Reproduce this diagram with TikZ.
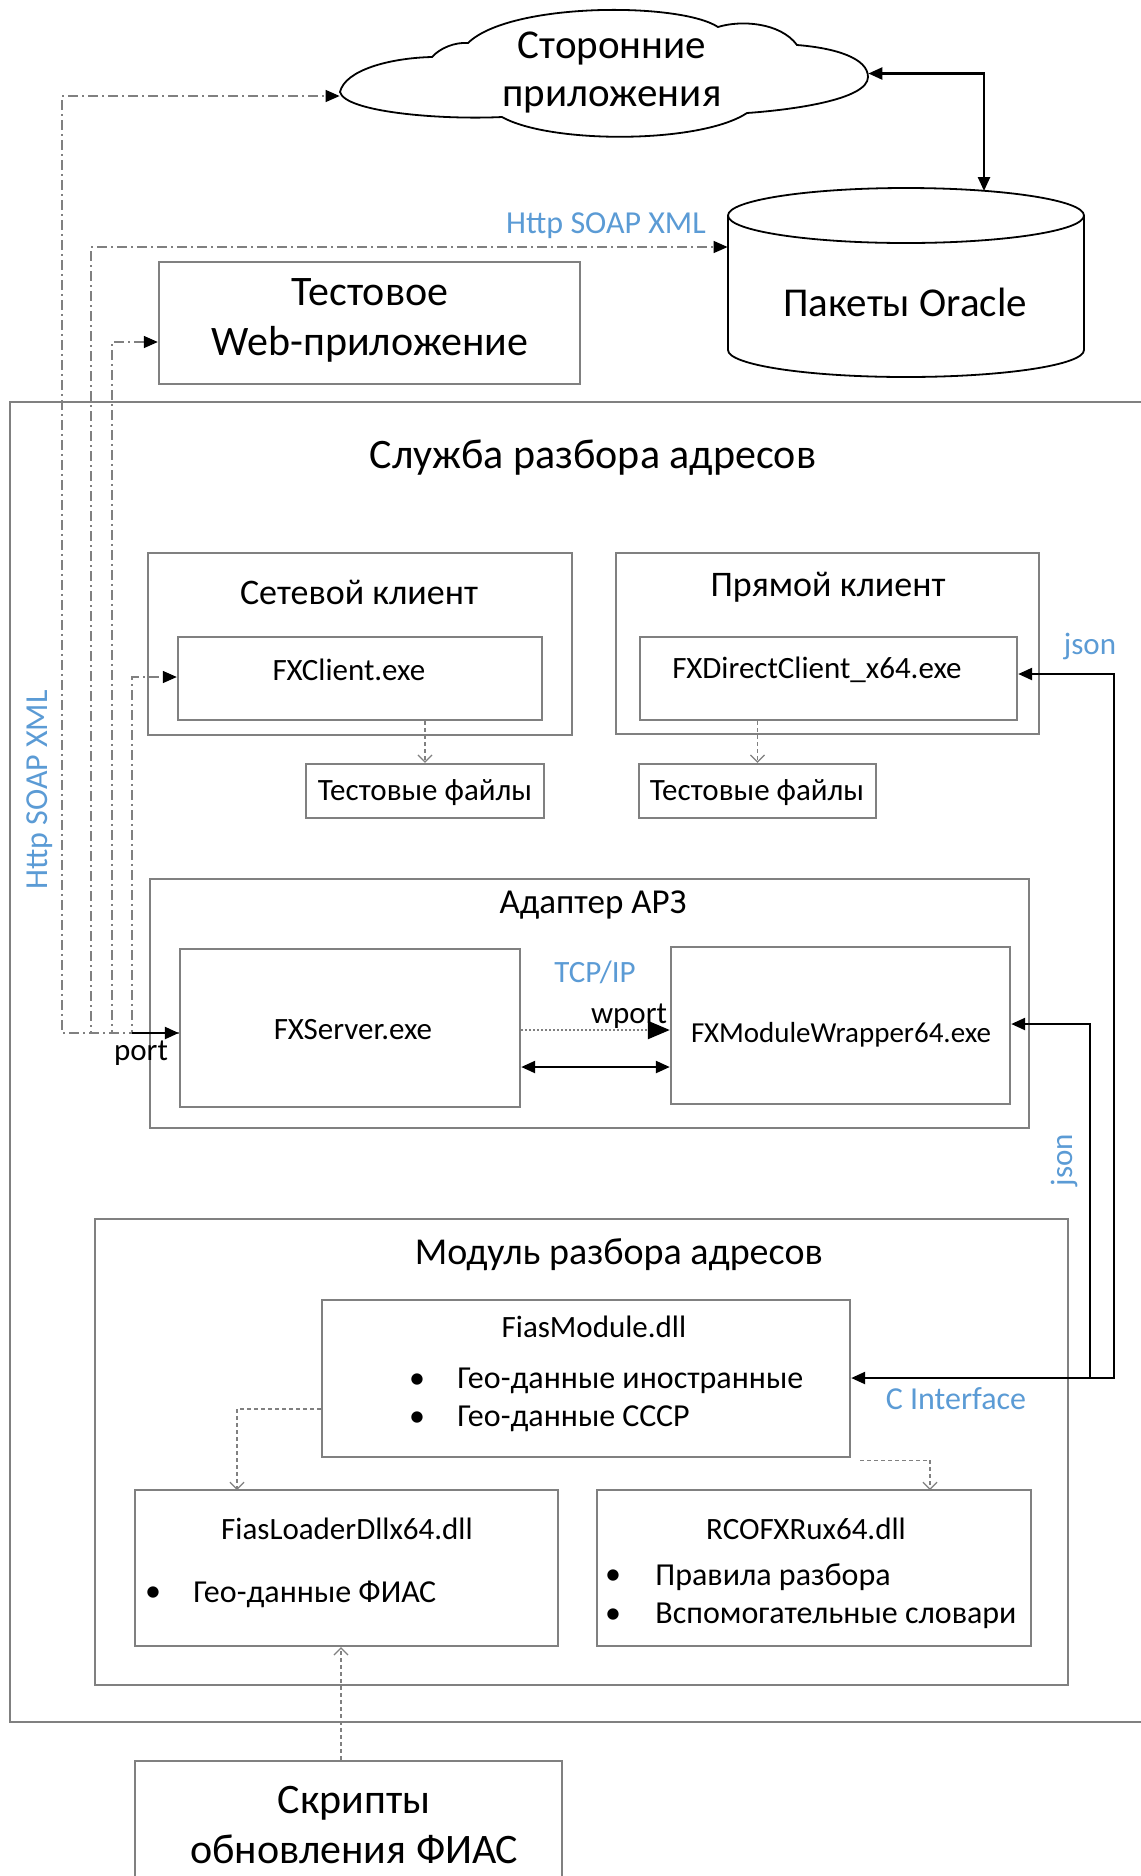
\documentclass[tikz,border=0pt]{standalone}
\usepackage{fontspec}
\setmainfont{Carlito}
\usetikzlibrary{arrows.meta,calc}
\definecolor{lblue}{RGB}{91,155,213}
\definecolor{bgray}{RGB}{128,128,128}
\newcommand{\myfs}[2]{\fontsize{#1}{#2}\selectfont}
\begin{document}
\begin{tikzpicture}[x=0.5pt,y=-0.5pt,
  box/.style={draw=bgray, line width=1.2pt, inner sep=0pt},
  txt/.style={inner sep=0pt, align=center, text=black},
  lbl/.style={inner sep=0pt, text=lblue, font=\myfs{15.5}{18}},
  conn/.style={draw=black, line width=1.2pt},
  hdash/.style={draw=gray, line width=0.7pt, dash pattern=on 5pt off 2pt on 1pt off 2pt},
  dep/.style={draw=gray, line width=0.6pt, dash pattern=on 2pt off 1.5pt, -{Straight Barb[length=3.5pt,width=7pt]}},
  blk/.style={-{Triangle[length=7pt,width=6pt,black]}},
  blkb/.style={{Triangle[length=7pt,width=6pt,black]}-{Triangle[length=7pt,width=6pt,black]}}
]
\useasboundingbox (0,0) rectangle (1141,1876);
\fill[white] (0,0) rectangle (1141,1876);

% ---------- top area ----------
\node[minimum width=264pt, minimum height=63.5pt, inner sep=0pt] (cloud) at (604,73.5) {};
\draw[black, line width=0.9pt, fill=white]
  (340,92) .. controls (345,70) and (390,58) .. (432,57)
  .. controls (440,48) and (455,42) .. (468,43)
  .. controls (510,2) and (680,2) .. (718,27)
  .. controls (740,20) and (780,22) .. (797,45)
  .. controls (835,48) and (868,58) .. (868,77)
  .. controls (868,100) and (790,110) .. (747,113)
  .. controls (700,144) and (550,144) .. (502,117)
  .. controls (440,120) and (345,112) .. (340,92) -- cycle;
\node[txt, font=\myfs{20.5}{24}] (cloudT) at (612,72) {Сторонние\\приложения};

\node[minimum width=178pt, minimum height=94.5pt, inner sep=0pt] (oracle) at (906,282.5) {};
\fill[white] (728,215.5) -- (728,350) arc(180:0:178 and 27) -- (1084,215.5) -- cycle;
\draw[black, line width=0.9pt] (728,215.5) -- (728,350) arc(180:0:178 and 27) -- (1084,215.5);
\draw[black, line width=0.9pt, fill=white] (906,215.5) ellipse (178 and 27.5);
\node[txt, font=\myfs{20.5}{24}] (oracleT) at (905,302) {Пакеты Oracle};

\node[box, minimum width=210.5pt, minimum height=61pt] (web) at (369.5,323) {};
\node[txt, font=\myfs{21}{25}] (webT) at (370,320) {Тестовое\\Web-приложение};

\node[lbl, font=\myfs{16}{18}] (httpT) at (606,226) {Http SOAP XML};

% ---------- service frame ----------
\node[box, minimum width=575pt, minimum height=660pt] (svc) at (585,1062) {};
\node[txt, font=\myfs{21}{25}] (svcT) at (593,458) {Служба разбора адресов};

\node[box, minimum width=212pt, minimum height=91pt] (netcl) at (360,644) {};
\node[txt, font=\myfs{18}{22}] (netclT) at (359,592) {Сетевой клиент};
\node[box, minimum width=182pt, minimum height=41.5pt] (fxclient) at (360,678.5) {};
\node[txt, font=\myfs{15.5}{18}] (fxclientT) at (349,670) {FXClient.exe};
\node[box, minimum width=119pt, minimum height=27pt] (tf1) at (425,791) {};
\node[txt, font=\myfs{15.5}{18}] (tf1T) at (425,793) {Тестовые файлы};

\node[box, minimum width=211.5pt, minimum height=90.5pt] (dircl) at (827.5,643.5) {};
\node[txt, font=\myfs{18}{22}] (dirclT) at (828,587) {Прямой клиент};
\node[box, minimum width=188.5pt, minimum height=41.5pt] (fxdirect) at (828.5,678.5) {};
\node[txt, font=\myfs{15.5}{18}] (fxdirectT) at (817,670) {FXDirectClient\_x64.exe};
\node[box, minimum width=118.5pt, minimum height=27pt] (tf2) at (757.5,791) {};
\node[txt, font=\myfs{15.5}{18}] (tf2T) at (757,793) {Тестовые файлы};

\node[lbl] (jsonT) at (1090,646) {json};
\node[lbl, font=\myfs{16}{18}, rotate=90] (httpV) at (40,790) {Http SOAP XML};

\node[box, minimum width=439.5pt, minimum height=124.5pt] (adapter) at (589.5,1003.5) {};
\node[txt, font=\myfs{17.5}{20}] (adapterT) at (593,905) {Адаптер АРЗ};
\node[box, minimum width=170pt, minimum height=79pt] (fxserver) at (350,1028) {};
\node[txt, font=\myfs{15.5}{18}] (fxserverT) at (353,1030) {FXServer.exe};
\node[box, minimum width=169.5pt, minimum height=78.5pt] (fxmw) at (840.5,1025.5) {};
\node[txt, font=\myfs{14.5}{18}] (fxmwT) at (841,1035) {FXModuleWrapper64.exe};
\node[lbl] (tcpT) at (595,972) {TCP/IP};
\node[txt, font=\myfs{15.5}{18}] (wportT) at (629,1016) {wport};
\node[txt, font=\myfs{15.5}{18}] (portT) at (141,1053) {port};
\node[lbl, rotate=90] (json2T) at (1064,1160) {json};

\node[box, minimum width=486.5pt, minimum height=233pt] (module) at (581.5,1452) {};
\node[txt, font=\myfs{19}{22}] (moduleT) at (619,1255) {Модуль разбора адресов};
\node[box, minimum width=264pt, minimum height=78.5pt] (fiasmod) at (586,1378.5) {};
\node[txt, font=\myfs{15.5}{18}] (fiasmodT) at (594,1327) {FiasModule.dll};
\node[txt, font=\myfs{16}{18}] (fb1) at (417,1381) {•};
\node[txt, font=\myfs{16}{18}, anchor=west] (ft1) at (457,1381) {Гео-данные иностранные};
\node[txt, font=\myfs{16}{18}] (fb2) at (417,1419) {•};
\node[txt, font=\myfs{16}{18}, anchor=west] (ft2) at (457,1419) {Гео-данные СССР};
\node[lbl, font=\myfs{16}{18}] (cifT) at (956,1399) {C Interface};

\node[box, minimum width=211.5pt, minimum height=78pt] (loader) at (346.5,1568) {};
\node[txt, font=\myfs{15.5}{18}] (loaderT) at (347,1529) {FiasLoaderDllx64.dll};
\node[txt, font=\myfs{16}{18}] (lb1) at (153,1594) {•};
\node[txt, font=\myfs{16}{18}, anchor=west] (lt1) at (193,1594) {Гео-данные ФИАС};

\node[box, minimum width=217pt, minimum height=78pt] (rcofx) at (814,1568) {};
\node[txt, font=\myfs{15.5}{18}] (rcofxT) at (806,1529) {RCOFXRux64.dll};
\node[txt, font=\myfs{16}{18}] (rb1) at (613,1577) {•};
\node[txt, font=\myfs{16}{18}, anchor=west] (rt1) at (655,1577) {Правила разбора};
\node[txt, font=\myfs{16}{18}] (rb2) at (613,1616) {•};
\node[txt, font=\myfs{16}{18}, anchor=west] (rt2) at (655,1616) {Вспомогательные словари};

\node[box, minimum width=213.5pt, minimum height=69.5pt] (scripts) at (348.5,1830.5) {};
\node[txt, font=\myfs{21}{25}] (scriptsT) at (354,1825) {Скрипты\\обновления ФИАС};

% ---------- connectors ----------
\coordinate (portpt) at ($(fxserver.west)+(0,5)$);
\coordinate (oratop) at (984,191);
\draw[conn, blkb] (cloud.east) -| (oratop);

\draw[hdash, blk] (portpt) -- (62,1033) |- (cloud.west |- 0,96);
\draw[hdash, blk] (portpt) -- (91,1033) |- (oracle.west |- 0,247);
\draw[hdash, blk] (portpt) -- (112,1033) |- (web.west |- 0,342);
\draw[hdash, blk] (portpt) -- (132,1033) |- (fxclient.west |- 0,677);
\draw[conn, blk] (132,1033) -- (portpt);

\draw[draw=gray, line width=1.2pt, dash pattern=on 1pt off 1pt, -{Triangle[length=11pt,width=9pt,black]}]
  (fxserver.east |- 0,1030) -- (fxmw.west |- 0,1030);
\draw[conn, blkb] (fxserver.east |- 0,1067) -- (fxmw.west |- 0,1067);

\coordinate (jtop) at (1114,674);
\coordinate (jmid) at (1090,1378);
\draw[conn, blkb] (fiasmod.east |- 0,1378) -| (jtop) -- (fxdirect.east |- jtop);
\draw[conn, blk] (jmid) -- (1090,1024) -- (fxmw.east |- 0,1024);

\draw[dep] (fxclient.south -| tf1.north) -- (tf1.north);
\draw[dep] (fxdirect.south -| tf2.north) -- (tf2.north);
\draw[dep] (fiasmod.west |- 0,1409) -| (237,1490);
\draw[dep] ($(fiasmod.south east)+(9,2)$) -| (930,1490);
\draw[dep] (scripts.north -| 341,0) -- (loader.south -| 341,0);
\end{tikzpicture}
\end{document}
